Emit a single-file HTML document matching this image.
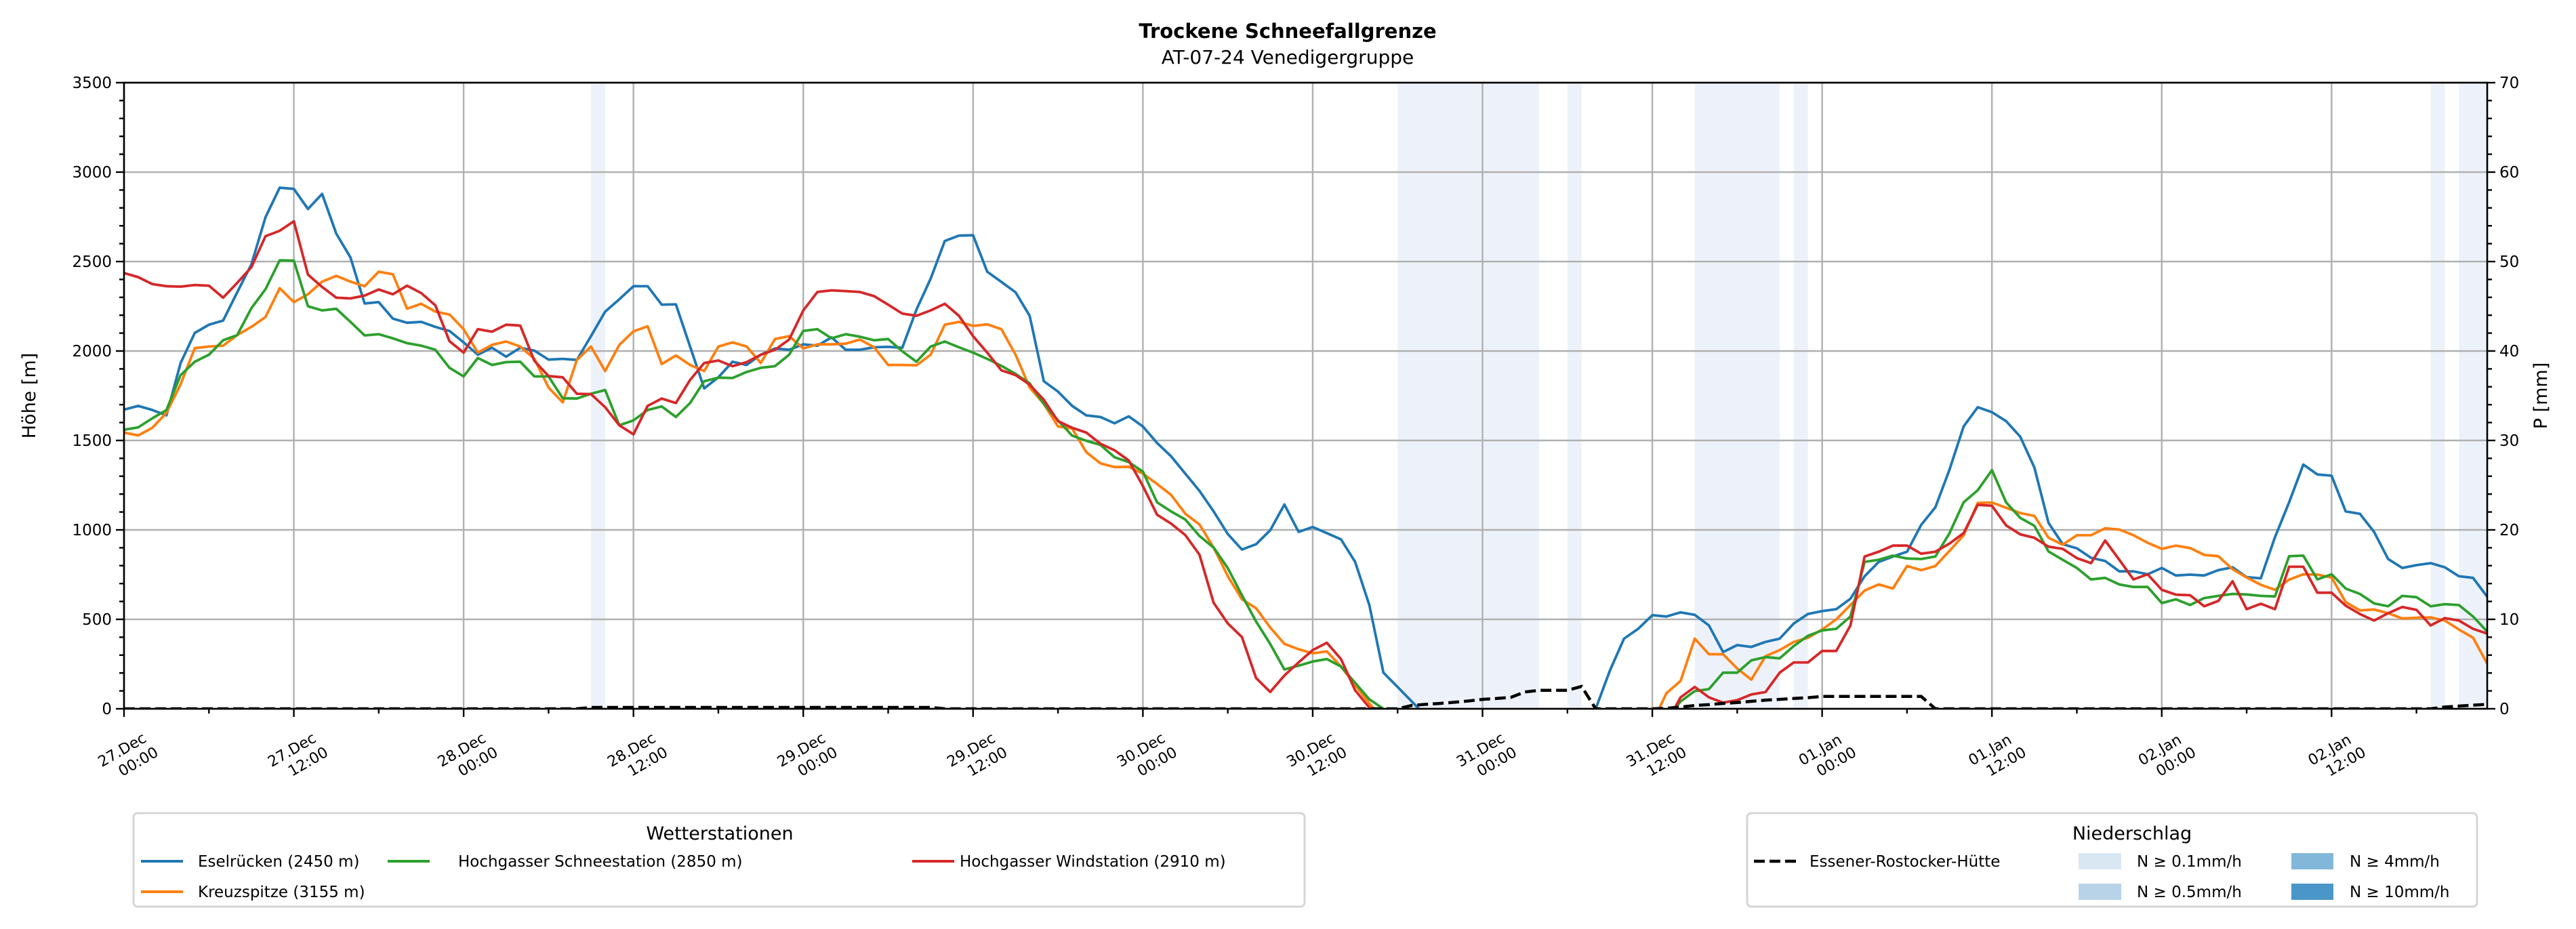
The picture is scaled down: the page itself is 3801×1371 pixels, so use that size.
<!DOCTYPE html>
<html><head><meta charset="utf-8"><style>
html,body{margin:0;padding:0;background:#fff;}
svg{display:block;font-family:"DejaVu Sans","Liberation Sans",sans-serif;}
</style></head><body>
<svg id="chart" width="3801" height="1371" viewBox="0 0 3801 1371" xmlns="http://www.w3.org/2000/svg">
<rect width="3801" height="1371" fill="#fff"/>
<text x="1900" y="56" font-size="29" font-weight="bold" text-anchor="middle">Trockene Schneefallgrenze</text>
<text x="1900" y="94" font-size="28" text-anchor="middle">AT-07-24 Venedigergruppe</text>
<defs><clipPath id="plotclip"><rect x="183" y="122" width="3487" height="924"/></clipPath></defs>
<g id="bands" clip-path="url(#plotclip)"></g>
<g id="grid"></g>
<g id="series" clip-path="url(#plotclip)"></g>
<g id="axes"></g>
<text transform="translate(52,584) rotate(-90)" font-size="27" text-anchor="middle">Höhe [m]</text>
<text transform="translate(3758,584) rotate(-90)" font-size="27" text-anchor="middle">P [mm]</text>

<g>
<rect x="197" y="1200" width="1728" height="138" rx="6" fill="#fff" stroke="#d6d6d6" stroke-width="3"/>
<text x="1062" y="1239" font-size="27" text-anchor="middle">Wetterstationen</text>
<g><line x1="208" y1="1271" x2="270" y2="1271" stroke="#1f77b4" stroke-width="4"/><text x="292" y="1279" font-size="23">Eselrücken (2450 m)</text></g>
<g><line x1="208" y1="1316" x2="270" y2="1316" stroke="#ff7f0e" stroke-width="4"/><text x="292" y="1324" font-size="23">Kreuzspitze (3155 m)</text></g>
<g><line x1="572" y1="1271" x2="634" y2="1271" stroke="#2ca02c" stroke-width="4"/><text x="676" y="1279" font-size="23">Hochgasser Schneestation (2850 m)</text></g>
<g><line x1="1346" y1="1271" x2="1408" y2="1271" stroke="#d62728" stroke-width="4"/><text x="1416" y="1279" font-size="23">Hochgasser Windstation (2910 m)</text></g>
</g>

<g>
<rect x="2578" y="1200" width="1077" height="138" rx="6" fill="#fff" stroke="#d6d6d6" stroke-width="3"/>
<text x="3146" y="1239" font-size="27" text-anchor="middle">Niederschlag</text>
<g><line x1="2588" y1="1271" x2="2650" y2="1271" stroke="#000" stroke-width="4.5" stroke-dasharray="16,7"/><text x="2670" y="1279" font-size="23">Essener-Rostocker-Hütte</text></g>
<g><rect x="3067" y="1259" width="63" height="24" fill="#d9e7f3"/><text x="3153" y="1279" font-size="23">N ≥ 0.1mm/h</text></g>
<g><rect x="3067" y="1304" width="63" height="24" fill="#b8d3e8"/><text x="3153" y="1324" font-size="23">N ≥ 0.5mm/h</text></g>
<g><rect x="3381" y="1259" width="62" height="24" fill="#82b7d9"/><text x="3467" y="1279" font-size="23">N ≥ 4mm/h</text></g>
<g><rect x="3381" y="1304" width="62" height="24" fill="#4b96c9"/><text x="3467" y="1324" font-size="23">N ≥ 10mm/h</text></g>
</g>
</svg>
<script>
// ---- data (hourly from 27.Dec 00:00) ----
var xTickLabels = ["27.Dec|00:00","27.Dec|12:00","28.Dec|00:00","28.Dec|12:00","29.Dec|00:00","29.Dec|12:00","30.Dec|00:00","30.Dec|12:00","31.Dec|00:00","31.Dec|12:00","01.Jan|00:00","01.Jan|12:00","02.Jan|00:00","02.Jan|12:00"];
var yTicks = [0,500,1000,1500,2000,2500,3000,3500];
var y2Ticks = [0,10,20,30,40,50,60,70];
var precipBands = [[33,34],[90,100],[102,103],[111,117],[118,119],[163,164],[165,167]];
var eselruecken = [1672,1693,1670,1640,1933,2101,2147,2170,2328,2484,2748,2913,2906,2794,2878,2656,2523,2266,2273,2181,2158,2163,2135,2112,2048,1979,2018,1968,2018,2002,1952,1956,1950,2083,2220,2289,2362,2362,2259,2261,2025,1791,1853,
1940,1922,1979,2014,2007,2037,2030,2076,2007,2007,2021,2023,2018,2232,2404,2615,2645,2647,2443,2386,2328,2197,1831,1773,1693,1640,1631,1596,1635,1578,1486,1411,1314,1218,1103,977,890,920,998,1142,989,1016,982,
947,821,580,202,122,41,-40,null,null,null,null,null,null,null,null,null,null,null,0,213,392,447,523,516,539,525,466,317,356,346,374,392,477,530,546,557,615,741,821,851,878,1028,
1126,1337,1578,1686,1658,1608,1521,1349,1039,920,897,844,826,768,768,752,787,745,750,745,775,791,736,729,959,1154,1365,1310,1303,1103,1090,989,837,787,803,814,791,741,732,626];
var kreuzspitze = [1544,1528,1571,1654,1814,2016,2025,2030,2089,2135,2190,2351,2273,2317,2388,2420,2388,2362,2443,2429,2236,2264,2220,2204,2122,1991,2034,2053,2025,1956,1796,1713,1950,2025,1888,2034,2110,2138,1927,1975,1922,1888,2025,
2048,2025,1933,2067,2083,2014,2037,2037,2041,2064,2021,1922,1922,1920,1979,2147,2163,2140,2149,2122,1979,1796,1704,1578,1567,1434,1372,1351,1353,1314,1257,1195,1090,1030,901,741,612,562,454,363,333,310,321,
236,133,30,-60,null,null,null,null,null,null,null,null,null,null,null,null,null,null,null,null,null,null,-80,87,156,392,305,305,225,163,294,328,374,397,443,500,580,661,695,672,798,775,
798,883,970,1151,1153,1124,1094,1078,956,917,970,970,1009,1002,970,928,894,912,899,860,853,780,734,693,665,722,752,750,734,596,550,555,534,505,509,511,493,443,397,252];
var hgSchnee = [1560,1573,1624,1670,1865,1940,1979,2060,2089,2239,2346,2507,2505,2250,2227,2236,2163,2087,2094,2071,2044,2030,2007,1906,1858,1961,1922,1938,1940,1858,1858,1736,1734,1761,1782,1585,1612,1670,1690,1631,1709,1831,1851,
1849,1883,1906,1915,1979,2112,2122,2071,2094,2080,2060,2067,1998,1940,2025,2053,2021,1991,1956,1917,1872,1819,1704,1612,1527,1498,1475,1406,1379,1326,1154,1103,1058,966,901,786,635,488,362,220,241,264,278,
236,145,53,0,null,null,null,null,null,null,null,null,null,null,null,null,null,null,null,null,null,null,null,-60,41,99,110,202,202,271,289,282,351,408,438,447,516,821,833,856,840,837,
851,982,1154,1222,1334,1154,1067,1023,879,833,787,723,732,695,681,681,591,612,580,619,631,642,639,631,628,853,856,723,752,672,642,589,573,631,624,573,585,580,516,431];
var hgWind = [2436,2413,2374,2362,2360,2369,2365,2298,2381,2468,2642,2672,2725,2427,2358,2298,2294,2310,2344,2317,2365,2324,2255,2055,1991,2122,2108,2147,2142,1945,1860,1853,1761,1759,1686,1585,1534,1693,1734,1709,1838,1933,1947,
1915,1938,1979,2007,2064,2227,2330,2339,2335,2330,2307,2259,2209,2197,2227,2264,2197,2083,1991,1892,1865,1812,1727,1608,1571,1544,1482,1445,1388,1245,1085,1035,971,861,592,477,401,172,94,186,259,328,369,
278,103,7,-60,null,null,null,null,null,null,null,null,null,null,null,null,null,null,null,null,null,null,null,-80,64,122,64,34,48,80,94,202,259,259,323,323,466,851,878,912,912,867,
878,924,982,1140,1135,1025,975,956,906,894,842,814,941,833,723,752,665,638,635,573,603,713,557,587,557,794,794,649,649,576,530,493,534,569,553,466,507,493,447,420];
var precipMM = [0,0,0,0,0,0,0,0,0,0,0,0,0,0,0,0,0,0,0,0,0,0,0,0,0,0,0,0,0,0,0,0,0,
0.15,0.15,0.15,0.15,0.15,0.15,0.15,0.15,0.15,0.15,0.15,0.15,0.15,0.15,0.15,0.15,0.15,0.15,0.15,0.15,0.15,0.15,0.15,0.15,0.15,
0,0,0,0,0,0,0,0,0,0,0,0,0,0,0,0,0,0,0,0,0,0,0,0,0,0,0,0,0,0,0,0,0,
0.37,0.5,0.6,0.73,0.87,1.05,1.15,1.28,1.88,2.06,2.06,2.06,2.5,
0,0,0,0,0,
0.05,0.2,0.37,0.46,0.6,0.7,0.83,0.96,1.05,1.15,1.24,1.38,1.38,1.38,1.38,1.38,1.38,1.38,1.38,
0,0,0,0,0,0,0,0,0,0,0,0,0,0,0,0,0,0,0,0,0,0,0,0,0,0,0,0,0,0,0,0,0,0,0,0,
0.2,0.3,0.4,0.5];

var NS="http://www.w3.org/2000/svg";
var L=183,R=3670,T=122,B=1046,HMAX=167;
function xs(h){return L+(R-L)*h/HMAX;}
function ys(v){return B-(B-T)*v/3500;}
function y2s(v){return B-(B-T)*v/70;}
function mk(tag,attrs,parent){var e=document.createElementNS(NS,tag);for(var k in attrs)e.setAttribute(k,attrs[k]);parent.appendChild(e);return e;}
var gB=document.getElementById('bands'),gG=document.getElementById('grid'),gS=document.getElementById('series'),gA=document.getElementById('axes');

precipBands.forEach(function(b){
  var r=mk('rect',{x:xs(b[0]),y:T,width:xs(b[1])-xs(b[0]),height:B-T,fill:'#edf2fa'},gB);
  
  
});
yTicks.forEach(function(v){var l=mk('line',{x1:L,x2:R,y1:ys(v),y2:ys(v),stroke:'#b0b0b0','stroke-width':2.4},gG);
  
  });
xTickLabels.forEach(function(t,i){var l=mk('line',{x1:xs(i*12),x2:xs(i*12),y1:T,y2:B,stroke:'#b0b0b0','stroke-width':2.4},gG);
  
  });

function pathFor(arr,scale){var d='',pen=false;arr.forEach(function(v,i){if(v===null){pen=false;return;}d+=(pen?'L':'M')+xs(i).toFixed(1)+' '+scale(v).toFixed(1)+' ';pen=true;});return d;}
var series=[[eselruecken,'#1f77b4','line-eselruecken'],[kreuzspitze,'#ff7f0e','line-kreuzspitze'],[hgSchnee,'#2ca02c','line-hochgasser-schnee'],[hgWind,'#d62728','line-hochgasser-wind']];
series.forEach(function(s){var p=mk('path',{d:pathFor(s[0],ys),fill:'none',stroke:s[1],'stroke-width':3.8,'stroke-linejoin':'round'},gS);
  
  });
var pp=mk('path',{d:pathFor(precipMM,y2s),fill:'none',stroke:'#000','stroke-width':4.5,'stroke-dasharray':'16,7'},gS);



var fr=mk('rect',{x:L,y:T,width:R-L,height:B-T,fill:'none',stroke:'#000','stroke-width':2.6},gA);


for(var v=0;v<=3500;v+=100){var maj=v%500===0;mk('line',{x1:L,x2:L-(maj?12:7),y1:ys(v),y2:ys(v),stroke:'#000','stroke-width':2.4},gA);}
yTicks.forEach(function(v){var t=mk('text',{x:L-18,y:ys(v)+8,'font-size':23,'text-anchor':'end'},gA);t.textContent=v;
  
  });
for(var w=0;w<=70;w+=2){var mj=w%10===0;mk('line',{x1:R,x2:R+(mj?12:7),y1:y2s(w),y2:y2s(w),stroke:'#000','stroke-width':2.4},gA);}
y2Ticks.forEach(function(v){var t=mk('text',{x:R+18,y:y2s(v)+8,'font-size':23},gA);t.textContent=v;
  
  });
for(var h=0;h<=HMAX;h+=6){var mj2=h%12===0;mk('line',{x1:xs(h),x2:xs(h),y1:B,y2:B+(mj2?12:7),stroke:'#000','stroke-width':2.4},gA);}
xTickLabels.forEach(function(lbl,i){
  var parts=lbl.split('|');var cx=xs(i*12)+6,cy=1110;
  var t=mk('text',{'font-size':22,'text-anchor':'middle',transform:'translate('+cx+','+cy+') rotate(-30)'},gA);
  
  
  var a=mk('tspan',{x:-6,y:0},t);a.textContent=parts[0];
  var b=mk('tspan',{x:6,y:27},t);b.textContent=parts[1];
});
</script>
</body></html>
